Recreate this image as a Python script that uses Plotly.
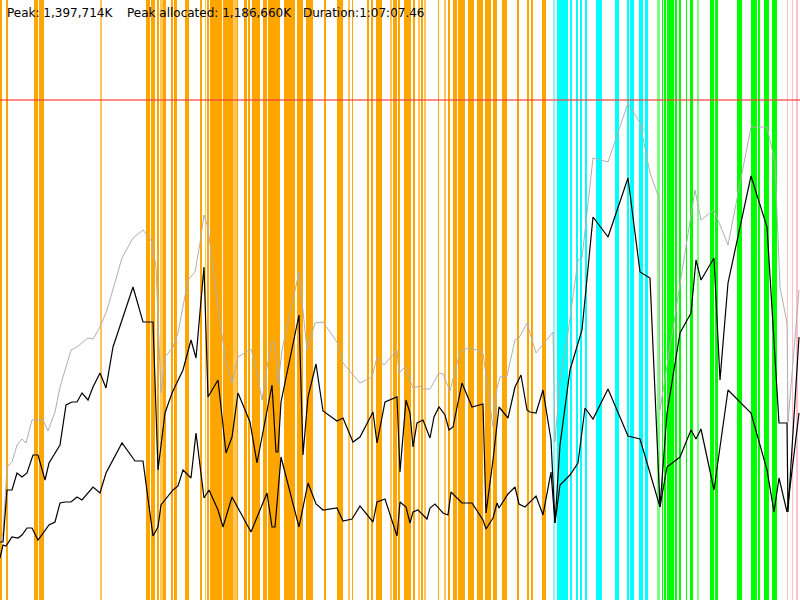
import plotly.graph_objects as go

# memory samples (chart units, 500 = peak)
total_x = [0, 3, 7, 12, 17, 22, 26, 32, 43, 48, 55, 60, 71, 77, 88, 93, 100, 107, 122, 133,
           143, 152, 156, 161, 165, 173, 178, 188, 195, 200, 204, 208, 217, 226, 232, 238, 251, 257, 262, 267,
           272, 275, 278, 282, 299, 307, 315, 323, 337, 343, 360, 372, 377, 384, 397, 399, 405, 413, 420, 423,
           430, 439, 443, 450, 460, 468, 477, 483, 493, 497, 500, 507, 515, 519, 527, 530, 536, 553, 555, 560,
           567, 578, 582, 593, 608, 628, 640, 650, 659, 660, 695, 701, 714, 728, 751, 767, 775, 780, 787, 788,
           799]
total_y = [58, 67, 133, 138, 155, 161, 157, 180, 180, 169, 188, 213, 250, 253, 262, 261, 273, 290, 342, 362,
           370, 358, 333, 207, 243, 253, 267, 320, 328, 357, 385, 372, 300, 237, 217, 243, 251, 227, 200, 233,
           258, 257, 215, 250, 328, 250, 277, 278, 258, 237, 217, 223, 243, 235, 250, 227, 233, 212, 214, 211,
           211, 227, 226, 209, 248, 252, 250, 247, 173, 212, 223, 224, 260, 262, 277, 267, 247, 268, 158, 220,
           260, 340, 342, 442, 438, 497, 477, 427, 402, 190, 410, 380, 390, 355, 473, 473, 438, 313, 277, 178,
           310]

alloc_x = [0, 3, 7, 12, 17, 22, 27, 33, 38, 45, 49, 60, 66, 72, 77, 82, 88, 93, 100, 106,
           113, 133, 143, 153, 158, 165, 172, 183, 191, 196, 200, 204, 208, 218, 226, 232, 238, 250, 257, 272,
           276, 278, 281, 299, 303, 308, 316, 323, 337, 343, 353, 360, 373, 377, 385, 397, 400, 406, 410, 413,
           417, 423, 430, 434, 439, 445, 449, 453, 462, 472, 483, 486, 493, 499, 508, 515, 521, 527, 530, 536,
           543, 551, 555, 560, 570, 582, 593, 608, 628, 640, 650, 660, 667, 680, 691, 696, 701, 714, 720, 728,
           751, 767, 779, 787, 788, 799]
alloc_y = [58, 58, 110, 110, 127, 123, 127, 145, 145, 120, 137, 155, 195, 198, 198, 207, 200, 213, 227, 212,
           253, 313, 278, 278, 130, 187, 207, 230, 260, 242, 288, 333, 203, 220, 147, 163, 207, 178, 137, 215,
           148, 148, 198, 285, 145, 203, 236, 189, 179, 182, 158, 163, 188, 157, 198, 203, 128, 200, 187, 153,
           177, 180, 162, 183, 193, 185, 170, 173, 217, 193, 196, 87, 140, 193, 182, 213, 225, 190, 188, 187,
           210, 160, 77, 155, 230, 270, 383, 363, 422, 328, 322, 93, 187, 267, 287, 340, 320, 342, 220, 317,
           424, 373, 177, 177, 88, 263]

used_x = [0, 3, 6, 12, 18, 22, 27, 32, 38, 49, 55, 60, 65, 71, 77, 82, 93, 100, 106, 122,
          135, 143, 153, 158, 161, 167, 173, 178, 183, 191, 196, 204, 209, 218, 223, 232, 251, 260, 267, 272,
          275, 281, 299, 308, 316, 323, 337, 343, 352, 360, 373, 377, 385, 397, 400, 406, 410, 413, 418, 427,
          430, 435, 443, 448, 451, 462, 472, 483, 486, 493, 497, 499, 508, 515, 519, 525, 530, 536, 543, 551,
          555, 560, 570, 578, 585, 593, 608, 628, 640, 660, 667, 680, 691, 696, 701, 714, 728, 751, 767, 774,
          779, 787, 799]
used_y = [42, 55, 54, 63, 62, 65, 72, 72, 60, 75, 78, 97, 98, 98, 103, 100, 113, 107, 127, 157,
          139, 139, 64, 73, 95, 103, 110, 114, 130, 122, 167, 102, 110, 90, 73, 103, 68, 90, 107, 73,
          73, 143, 73, 117, 96, 90, 92, 79, 81, 94, 78, 98, 101, 64, 98, 93, 77, 88, 90, 81,
          92, 96, 87, 85, 108, 97, 97, 80, 71, 82, 97, 92, 106, 113, 96, 93, 98, 104, 85, 128,
          77, 115, 125, 137, 192, 181, 211, 164, 161, 93, 133, 143, 170, 161, 171, 110, 210, 187, 130, 88,
          122, 88, 187]

peak_level = 500

# background phases (x start, x end)
orange_start = [0, 6, 34, 39, 146, 151, 157, 163, 171, 174, 185, 200, 207, 210, 223, 237, 244, 248, 252, 263,
                268, 284, 297, 306, 324, 337, 352, 367, 371, 376, 393, 398, 404, 413, 421, 438, 448, 453, 458, 468,
                477, 485, 493, 502, 517, 527, 531, 542]
orange_end = [2, 8, 38, 44, 150, 155, 159, 166, 173, 177, 189, 202, 209, 222, 233, 238, 247, 250, 260, 267,
              280, 295, 303, 313, 326, 343, 353, 369, 373, 382, 397, 400, 411, 415, 423, 439, 450, 457, 465, 474,
              483, 491, 497, 507, 519, 529, 533, 546]
orange_light_start = [100, 160, 205, 233, 348, 390, 418, 424, 444]
orange_light_end = [102, 163, 206, 237, 350, 392, 420, 426, 446]
cyan_start = [557, 570, 576, 580, 585, 596, 615, 627, 630, 639, 645]
cyan_end = [568, 572, 578, 582, 587, 602, 619, 629, 634, 643, 648]
cyan_light_start = [553]
cyan_light_end = [555]
green_start = [662, 664, 667, 675, 679, 686, 690, 710, 715, 737, 751, 758, 764, 772]
green_end = [663, 666, 674, 677, 681, 687, 693, 714, 718, 742, 757, 760, 769, 777]
green_light_start = [657, 697]
green_light_end = [660, 699]
pink_start = [787, 792, 796]
pink_end = [788, 793, 798]

fig = go.Figure()

phases = [
    (orange_start, orange_end, "#FFA500"),
    (orange_light_start, orange_light_end, "#FFC65C"),
    (cyan_start, cyan_end, "#00FFFF"),
    (cyan_light_start, cyan_light_end, "#80FFFF"),
    (green_start, green_end, "#00FF00"),
    (green_light_start, green_light_end, "#80FF80"),
    (pink_start, pink_end, "#FFC0CB"),
]
for starts, ends, color in phases:
    for s, e in zip(starts, ends):
        fig.add_shape(type="rect", xref="x", yref="paper", x0=s, x1=e, y0=0, y1=1,
                      fillcolor=color, line_width=0, layer="below")

fig.add_trace(go.Scatter(x=[0, 800], y=[peak_level, peak_level], mode="lines",
                         line={"color": "rgba(255,60,60,0.8)", "width": 1.5}, hoverinfo="skip"))
fig.add_trace(go.Scatter(x=total_x, y=total_y, mode="lines",
                         line={"color": "#AFAFAF", "width": 1}))
fig.add_trace(go.Scatter(x=alloc_x, y=alloc_y, mode="lines",
                         line={"color": "black", "width": 1.2}))
fig.add_trace(go.Scatter(x=used_x, y=used_y, mode="lines",
                         line={"color": "black", "width": 1.2}))

labels = ["Peak: 1,397,714K", "Peak allocated: 1,186,660K", "Duration:1:07:07.46"]
label_x = [5, 125, 301]
for txt, lx in zip(labels, label_x):
    fig.add_annotation(x=lx, xref="x", y=1 - 13 / 600, yref="paper", text=txt,
                       showarrow=False, xanchor="left", yanchor="middle",
                       font={"family": "DejaVu Sans", "size": 12, "color": "black"})

fig.update_layout(
    width=800, height=600,
    margin={"l": 0, "r": 0, "t": 0, "b": 0},
    plot_bgcolor="white", paper_bgcolor="white",
    showlegend=False,
    xaxis={"range": [0, 800], "visible": False, "fixedrange": True},
    yaxis={"range": [0, 600], "visible": False, "fixedrange": True},
)

# page has a default 8px body margin, drop it so the chart fills the window
fig.write_html("out.html", config={"displayModeBar": False},
               post_script="document.body.style.margin='0';document.body.style.overflow='hidden';")
